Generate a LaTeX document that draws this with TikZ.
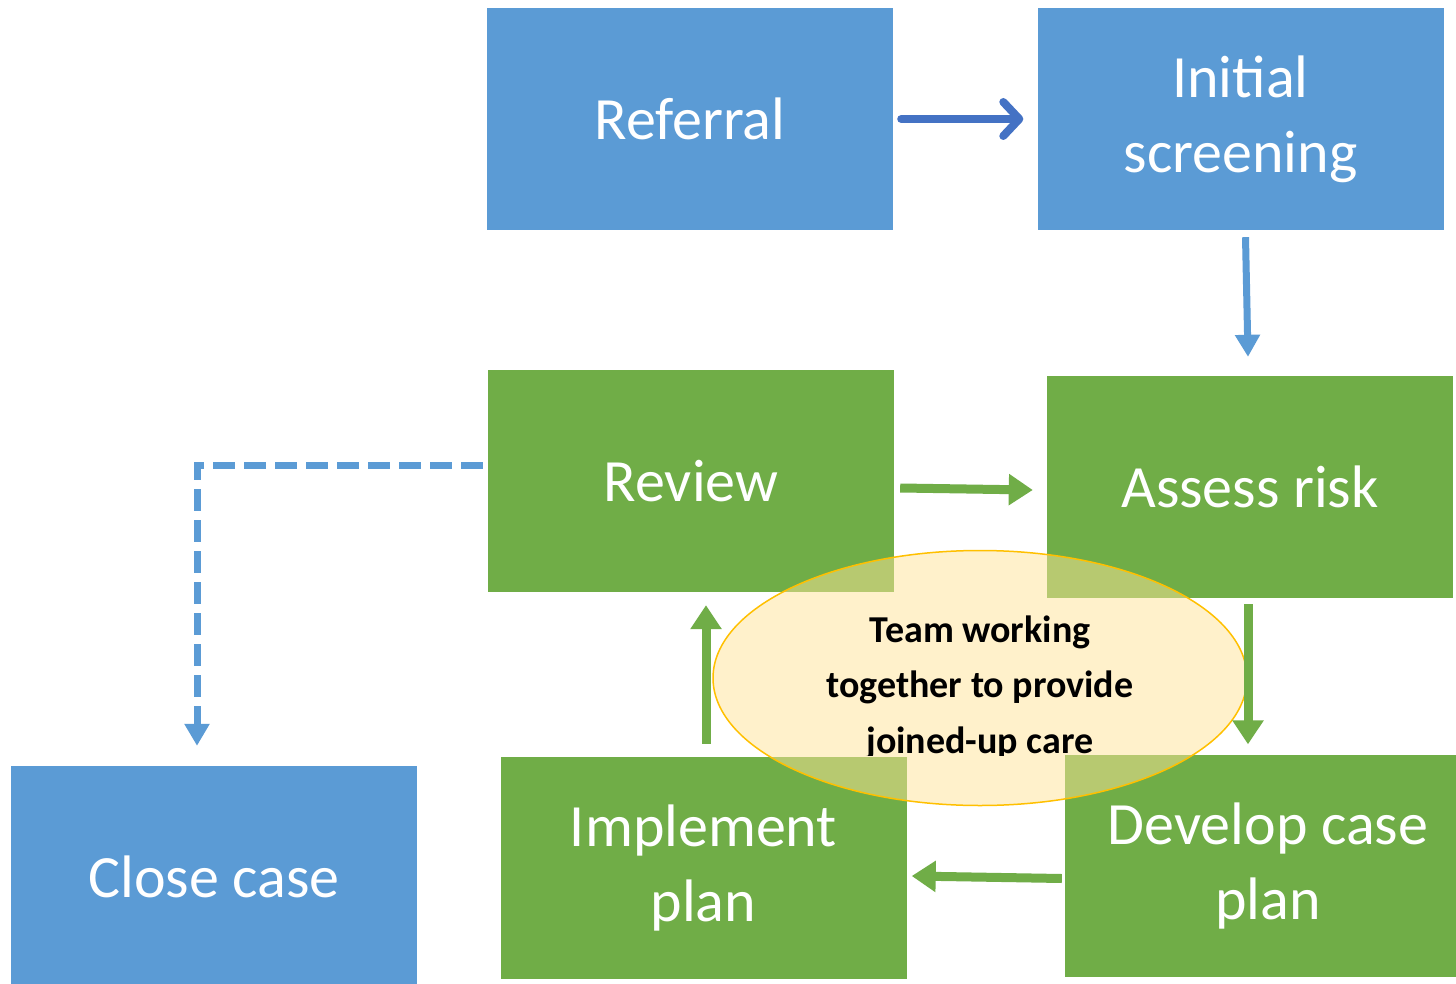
\documentclass[tikz,border=0pt]{standalone}
\usepackage{fontspec}
\setmainfont{Carlito}
\usetikzlibrary{arrows.meta,shapes.geometric,calc}
\definecolor{oblue}{HTML}{5B9BD5}
\definecolor{dblue}{HTML}{4472C4}
\definecolor{ogreen}{HTML}{70AD47}
\definecolor{ogold}{HTML}{FFE599}
\definecolor{oorange}{HTML}{FFC000}
\tikzset{
  boxnode/.style={draw=none, minimum width=406pt, minimum height=222pt, inner sep=0pt,
    text=white, align=center, font=\fontsize{60}{75}\selectfont},
  bluebox/.style={boxnode, fill=oblue},
  greenbox/.style={boxnode, fill=ogreen},
  garrow/.style={draw=ogreen, line width=9pt, -{Triangle[length=24pt,width=30pt]}},
  barrow/.style={draw=oblue, line width=7pt, -{Triangle[length=22pt,width=24pt]}},
  teamtext/.style={font=\bfseries\fontsize{38}{56}\selectfont, text=black, inner sep=0pt}
}
\begin{document}
\begin{tikzpicture}[x=1pt,y=-1pt]
\clip (0,0) rectangle (1456,984);
\fill[white] (0,0) rectangle (1456,984);
% boxes
\node[bluebox] (ref) at (690,119) {Referral};
\node[bluebox] (init) at (1240.5,119) {Initial\\screening};
\node[greenbox] (rev) at (691,481) {Review};
\node[greenbox] (risk) at (1250,487) {Assess risk};
\node[greenbox] (impl) at (703.5,868) {Implement\\plan};
\node[greenbox] (dev) at (1268,865.5) {Develop case\\plan};
\node[bluebox] (close) at (214,877) {Close case};
% ellipse
\node[ellipse, minimum width=534pt, minimum height=255pt, fill=ogold, fill opacity=0.5,
  draw=oorange, line width=1.5pt, inner sep=0pt] (team) at (980,678) {};
\begin{scope}
  \clip (600,560) rectangle (1300,755);
  \node[teamtext, anchor=base] (t1) at (980,642) {Team working};
  \node[teamtext, anchor=base] (t2) at (980,697) {together to provide};
  \node[teamtext, anchor=base] (t3) at (980,753) {joined-up care};
\end{scope}
% connectors
\draw[draw=dblue, line width=8pt, line cap=round,
  -{Straight Barb[length=16pt,width=34pt,line width=8pt,round]}]
  ($(ref.east)+(8,0)$) -- ($(init.west)+(-14,0)$);
\draw[barrow] ($(init.south)+(5,7)$) -- ($(risk.north)+(-2,-19)$);
\draw[garrow] ($(rev.east)+(6,7)$) -- ($(risk.west)+(-14,3)$);
\draw[garrow] ($(risk.south)+(-2,6)$) -- ($(risk.south |- dev.north)+(-2,-10)$);
\draw[garrow] ($(dev.west)+(-3,13)$) -- ($(impl.east)+(5,8)$);
\draw[garrow] ($(impl.north)+(2.5,-13)$) -- ($(rev.south -| impl.north)+(2.5,13)$);
\coordinate (corner) at (197,465);
\draw[draw=oblue, line width=7pt, dash pattern=on 22pt off 9pt,
  -{Triangle[length=22pt,width=24pt]}]
  ($(rev.west |- corner)+(-5,0)$) -- (corner) -- ($(close.north -| corner)+(0,-20)$);
\end{tikzpicture}
\end{document}
